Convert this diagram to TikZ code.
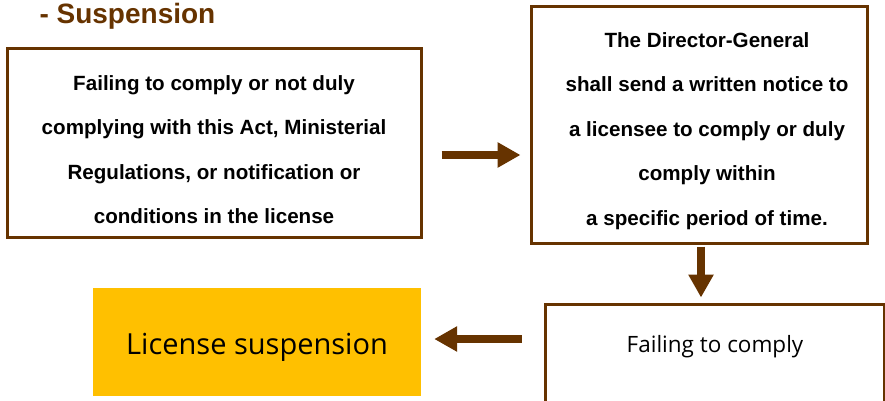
\documentclass[tikz,border=0pt]{standalone}
\usepackage{fontspec}
\setmainfont{Liberation Sans}
\newfontfamily\plainsans{Open Sans}
\usetikzlibrary{arrows.meta}
\definecolor{brownline}{RGB}{102,51,0}
\definecolor{amber}{RGB}{255,192,0}
\tikzset{
  x=1pt, y=1pt,
  framebox/.style={draw=brownline, line width=3pt, fill=white, inner sep=0pt},
  boldtext/.style={font=\fontsize{20.6}{44.5}\selectfont\bfseries, align=center, text=black},
  flowarrow/.style={draw=brownline, line width=7.5pt,
    -{Triangle[length=23pt, width=24pt]}},
}
\begin{document}
\begin{tikzpicture}
\useasboundingbox (0,0) rectangle (885,400);
\begin{scope}
\clip (0,0) rectangle (885,400);

% title
\node[anchor=west, text=brownline, font=\fontsize{28}{30}\selectfont\bfseries] (title) at (36,384) {- Suspension};

% boxes
\node[framebox, minimum width=414pt, minimum height=189pt] (cause) at (214,257.5) {};
\node[framebox, minimum width=336pt, minimum height=236pt] (notice) at (699,275) {};
\node[framebox, minimum width=339pt, minimum height=130pt] (fail) at (714.5,31) {};
\node[fill=amber, minimum width=328pt, minimum height=108pt, inner sep=0pt] (result) at (257,58) {};

% texts
\node[boldtext] (causetext) at (214,250.5) {Failing to comply or not duly\\complying with this Act, Ministerial\\Regulations, or notification or\\conditions in the license};
\node[boldtext] (noticetext) at (707,269) {The Director-General\\shall send a written notice to\\a licensee to comply or duly\\comply within\\a specific period of time.};
\node[font=\plainsans\fontsize{22.5}{25}\selectfont] (failtext) at (715,53) {Failing to comply};
\node[font=\plainsans\fontsize{29}{32}\selectfont] (resulttext) at (257,53) {License suspension};

% connectors
\draw[flowarrow, shorten <=19pt, shorten >=9pt] (cause.east |- 0,245) -- (notice.west |- 0,245);
\draw[flowarrow, shorten <=2pt, shorten >=5pt] (notice.south -| 701,0) -- (fail.north -| 701,0);
\draw[flowarrow, shorten <=22pt, shorten >=13pt] (fail.west |- 0,61) -- (result.east |- 0,61);
\end{scope}
\end{tikzpicture}
\end{document}
